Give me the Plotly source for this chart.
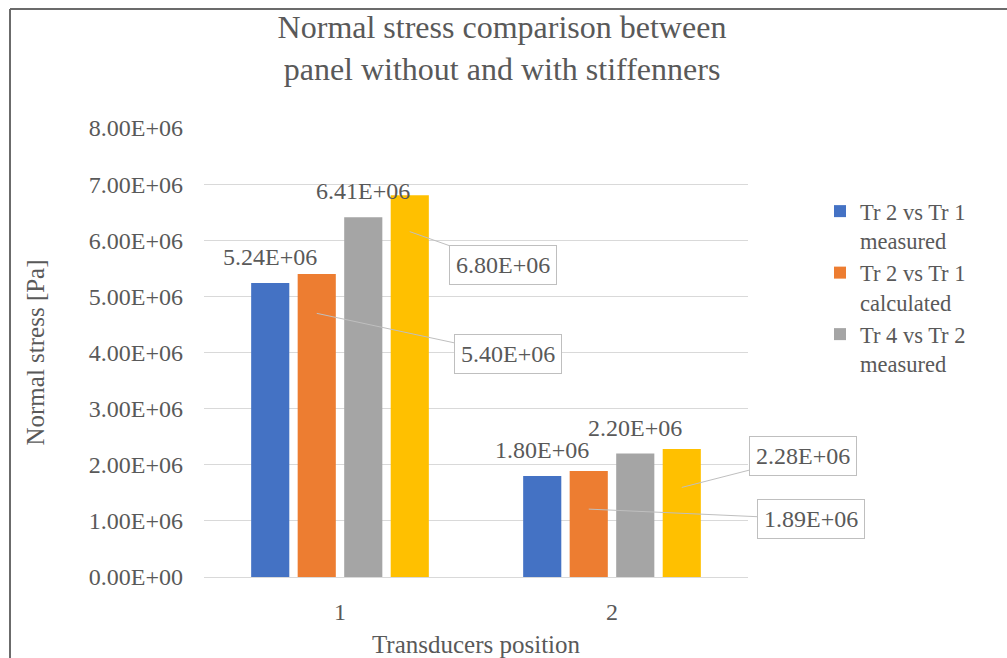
import plotly.graph_objects as go

# ---------------- data ----------------
categories = ["1", "2"]
series_names = [
    "Tr 2 vs Tr 1<br>measured",
    "Tr 2 vs Tr 1<br>calculated",
    "Tr 4 vs Tr 2<br>measured",
    "Tr 4 vs Tr 2<br>calculated",
]
tr2_tr1_measured = [5.24e6, 1.80e6]
tr2_tr1_calculated = [5.40e6, 1.89e6]
tr4_tr2_measured = [6.41e6, 2.20e6]
tr4_tr2_calculated = [6.80e6, 2.28e6]
y_tick_values = [0, 1e6, 2e6, 3e6, 4e6, 5e6, 6e6, 7e6, 8e6]
y_tick_labels = ["0.00E+00", "1.00E+06", "2.00E+06", "3.00E+06", "4.00E+06",
                 "5.00E+06", "6.00E+06", "7.00E+06", "8.00E+06"]

series_values = [tr2_tr1_measured, tr2_tr1_calculated, tr4_tr2_measured, tr4_tr2_calculated]
colors = ["#4472C4", "#ED7D31", "#A5A5A5", "#FFC000"]
show_in_legend = [True, True, True, False]

# ---------------- layout geometry ----------------
W, H = 1007, 658
ML, MR, MT, MB = 204, 1007 - 748, 128, 658 - 577
PW, PH = W - ML - MR, H - MT - MB
BARGAP, BARGROUPGAP = 0.316, 0.18
TXT = "#595959"
FONT = "Liberation Serif"


def px_x(px):
    return (px - ML) / PW


def px_y(py):
    return (H - MB - py) / PH


fig = go.Figure()
for name, vals, col, sl in zip(series_names, series_values, colors, show_in_legend):
    fig.add_trace(go.Bar(
        x=categories, y=vals, name=name, marker=dict(color=col, line=dict(width=0)),
        showlegend=sl, hoverinfo="x+y+name",
    ))

# bar centre offsets (category units) from the group layout
n_series = len(series_values)
slot = (1 - BARGAP) / n_series
offsets = [(i - (n_series - 1) / 2) * slot for i in range(n_series)]

annotations = []
# labels placed above bars (series index, category index)
above = [(0, 0), (2, 0), (0, 1), (2, 1)]
for s, c in above:
    v = series_values[s][c]
    annotations.append(dict(
        x=c + offsets[s], y=v, xref="x", yref="y", text=f"{v:.2E}",
        showarrow=False, yshift=26, font=dict(size=24, color=TXT, family=FONT),
    ))

# callout labels: (series, category, anchor fraction of bar, box dx, box dy)
callouts = [
    (3, 0, 0.905, 93, 33),
    (1, 0, 0.87, 191, 41),
    (3, 1, 0.70, 121, -31),
    (1, 1, 0.64, 222, 10),
]
for s, c, frac, dx, dy in callouts:
    v = series_values[s][c]
    annotations.append(dict(
        x=c + offsets[s], y=v * frac, xref="x", yref="y", text=f"{v:.2E}",
        showarrow=True, arrowhead=0, arrowwidth=1, arrowcolor="#BFBFBF", standoff=0,
        ax=dx, ay=dy, bordercolor="#BFBFBF", borderwidth=1, borderpad=6,
        bgcolor="white", font=dict(size=24, color=TXT, family=FONT),
    ))

shapes = [
    dict(type="line", xref="paper", yref="paper", x0=px_x(10), x1=px_x(W + 5),
         y0=px_y(9), y1=px_y(9), line=dict(color="#6b6b6b", width=2)),
    dict(type="line", xref="paper", yref="paper", x0=px_x(10), x1=px_x(10),
         y0=px_y(9), y1=px_y(H + 5), line=dict(color="#6b6b6b", width=2)),
]

fig.update_layout(
    width=W, height=H,
    margin=dict(l=ML, r=MR, t=MT, b=MB, autoexpand=False),
    paper_bgcolor="white", plot_bgcolor="white",
    barmode="group", bargap=BARGAP, bargroupgap=BARGROUPGAP,
    font=dict(family=FONT, color=TXT, size=24),
    title=dict(
        text="Normal stress comparison between<br>panel without and with stiffenners",
        x=px_x(502), xanchor="center",
        y=1 - 38 / H, yanchor="middle", xref="paper", yref="container",
        font=dict(size=32, color=TXT, family=FONT),
    ),
    xaxis=dict(
        type="category", range=[-0.5, 1.5], autorange=False,
        showgrid=False, showline=True, linecolor="#D9D9D9", linewidth=1,
        ticks="", ticklabelstandoff=13, tickfont=dict(size=24, color=TXT, family=FONT),
        title=dict(text="Transducers position", font=dict(size=25, color=TXT, family=FONT), standoff=12),
        fixedrange=True,
    ),
    yaxis=dict(
        range=[0, 8e6], autorange=False, tickvals=y_tick_values, ticktext=y_tick_labels,
        showgrid=True, gridcolor="#D9D9D9", gridwidth=1, zeroline=False, showline=False,
        ticks="", ticklabelstandoff=20, tickfont=dict(size=24, color=TXT, family=FONT),
        title=dict(text="Normal stress [Pa]", font=dict(size=25, color=TXT, family=FONT), standoff=37),
        fixedrange=True,
    ),
    legend=dict(
        x=px_x(820), xanchor="left", y=px_y(190), yanchor="top",
        font=dict(size=22.5, color=TXT, family=FONT), valign="top",
        bgcolor="rgba(0,0,0,0)", traceorder="normal",
    ),
    annotations=annotations,
    shapes=shapes,
)

fig.write_html("out.html", include_plotlyjs=True, config={"displayModeBar": False})
